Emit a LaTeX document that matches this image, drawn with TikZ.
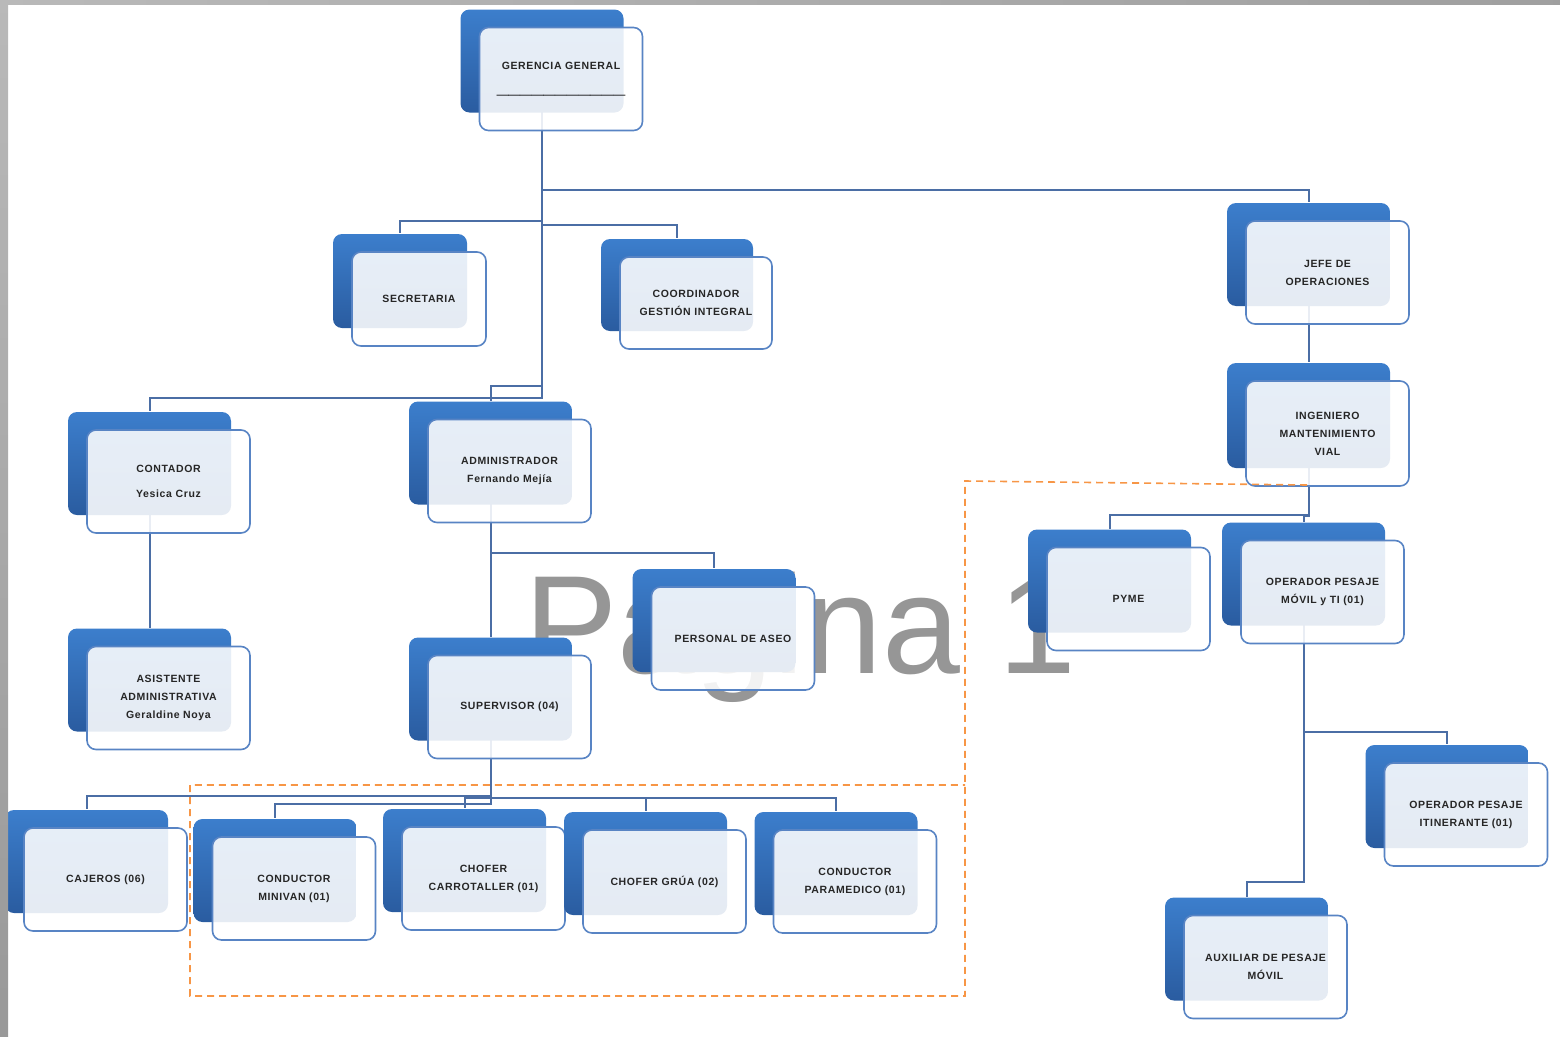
\documentclass[tikz,border=0pt]{standalone}
\usepackage{fontspec}
\setmainfont{Liberation Sans}
\newfontfamily\cajafont[LetterSpace=6]{Liberation Sans}
\newfontfamily\marcafont{Liberation Sans}
\usetikzlibrary{backgrounds}
\definecolor{azulclaro}{RGB}{60,126,204}
\definecolor{azuloscuro}{RGB}{42,92,160}
\definecolor{bordeazul}{RGB}{88,132,196}
\definecolor{lineaazul}{RGB}{75,110,165}
\definecolor{naranja}{RGB}{247,150,70}
\definecolor{grismarca}{RGB}{150,150,150}
\tikzset{
  puesto/.style={rectangle, rounded corners=9pt, minimum width=163pt,
    minimum height=103pt, draw=bordeazul, line width=1.6pt, fill=white,
    fill opacity=0.88, draw opacity=1, text opacity=1, align=center,
    text=black!85, font=\cajafont\bfseries\fontsize{10.5}{18}\selectfont,
    preaction={draw=none, fill opacity=1, top color=azulclaro,
      bottom color=azuloscuro, transform canvas={xshift=-19pt, yshift=18pt}}},
  arriba/.style={xshift=-19pt, yshift=18pt},
  abajo/.style={xshift=-19pt},
  linea/.style={draw=lineaazul, line width=2pt},
  recuadro/.style={draw=naranja, line width=1.6pt, dash pattern=on 7pt off 5pt},
  marca/.style={font=\marcafont\fontsize{140}{150}\selectfont, text=grismarca,
    inner sep=0pt}
}
\begin{document}
\begin{tikzpicture}[x=1pt, y=-1pt]
  \useasboundingbox (0,0) rectangle (1560,1036);
  % puestos
  \node[puesto] (ger) at (561,79) {GERENCIA GENERAL\\[6pt]{\marcafont\bfseries\fontsize{21}{14}\selectfont\color{black}\_\_\_\_\_\_\_\_\_\_\_}};
  \node[puesto, minimum width=134pt, minimum height=94pt] (sec) at (419,299) {SECRETARIA};
  \node[puesto, minimum width=152pt, minimum height=92pt] (coord) at (696,303) {COORDINADOR\\GESTIÓN INTEGRAL};
  \node[puesto] (jefe) at (1327.5,272.5) {JEFE DE\\OPERACIONES};
  \node[puesto, minimum height=105pt] (ing) at (1327.5,433.5) {INGENIERO\\MANTENIMIENTO\\VIAL};
  \node[puesto] (cont) at (168.5,481.5) {CONTADOR\\[7pt]Yesica Cruz};
  \node[puesto] (adm) at (509.5,471) {ADMINISTRADOR\\Fernando Mejía};
  \node[puesto] (asis) at (168.5,698) {ASISTENTE\\ADMINISTRATIVA\\Geraldine Noya};
  \node[puesto] (sup) at (509.5,707) {SUPERVISOR (04)};
  \node[puesto] (aseo) at (733,638.5) {PERSONAL DE ASEO};
  \node[puesto] (pyme) at (1128.5,599) {PYME};
  \node[puesto] (movil) at (1322.5,592) {OPERADOR PESAJE\\MÓVIL y TI (01)};
  \node[puesto] (itin) at (1466,814.5) {OPERADOR PESAJE\\ITINERANTE (01)};
  \node[puesto] (aux) at (1265.5,967) {AUXILIAR DE PESAJE\\MÓVIL};
  \node[puesto] (caj) at (105.5,879.5) {CAJEROS (06)};
  \node[puesto] (mini) at (294,888.5) {CONDUCTOR\\MINIVAN (01)};
  \node[puesto] (carro) at (483.5,878.5) {CHOFER\\CARROTALLER (01)};
  \node[puesto] (grua) at (664.5,881.5) {CHOFER GRÚA (02)};
  \node[puesto] (para) at (855,881.5) {CONDUCTOR\\PARAMEDICO (01)};
  \begin{scope}[on background layer]
    \node[marca, anchor=base west] (pagina) at (524,673) {Página 1};
    % lineas
    \draw[linea] ([abajo]ger.center) -- ++(0,111) -| ([arriba]jefe.north);
    \draw[linea] ([abajo]ger.center) -- ++(0,142) -| ([arriba]sec.north);
    \draw[linea] ([abajo]ger.center) -- ++(0,146) -| ([arriba]coord.north);
    \draw[linea] ([abajo]ger.center) -- ++(0,319) -| ([arriba]cont.north);
    \draw[linea] ([abajo]ger.center) -- ++(0,307) -| ([arriba]adm.north);
    \draw[linea] ([abajo]cont.center) -- ([arriba]asis.north);
    \draw[linea] ([abajo]adm.center) -- ([arriba]sup.north);
    \draw[linea] ([abajo]adm.center) -- ++(0,82) -| ([arriba]aseo.north);
    \draw[linea] ([abajo]sup.center) -- ++(0,89) -| ([arriba]caj.north);
    \draw[linea] ([abajo]sup.center) -- ++(0,97) -| ([arriba]mini.north);
    \draw[linea] ([abajo]sup.center) -- ++(0,91) -| ([arriba]carro.north);
    \draw[linea] ([abajo]sup.center) -- ++(0,91) -| ([arriba]grua.north);
    \draw[linea] ([abajo]sup.center) -- ++(0,91) -| ([arriba]para.north);
    \draw[linea] ([abajo]jefe.center) -- ([arriba]ing.north);
    \draw[linea] ([abajo]ing.center) -- ++(0,81.5) -| ([arriba]pyme.north);
    \draw[linea] ([abajo]ing.center) -- ++(0,82) -| ([arriba]movil.north);
    \draw[linea] ([abajo]movil.center) -- ++(0,140) -| ([arriba]itin.north);
    \draw[linea] ([abajo]movil.center) -- ++(0,290) -| ([arriba]aux.north);
  \end{scope}
  % recuadro punteado
  \draw[recuadro] (1307,485) -- (965,481) -- (965,996) -- (190,996)
    -- (190,785) -- (965,785);
  % marco
  \shade[top color=gray!55, bottom color=gray!80] (0,0) rectangle (8,1036);
  \shade[left color=gray!55, right color=gray!75] (0,0) rectangle (1560,4);
\end{tikzpicture}
\end{document}
